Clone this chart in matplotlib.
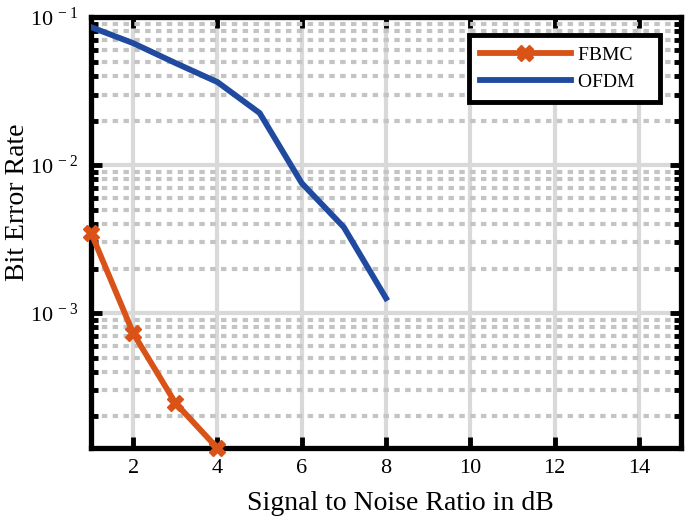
import matplotlib
matplotlib.use("Agg")
import matplotlib.pyplot as plt
from matplotlib.ticker import LogLocator, NullFormatter, FixedLocator, FixedFormatter

snr_fbmc = [1, 2, 3, 4]
ber_fbmc = [3.48e-3, 7.3e-4, 2.47e-4, 1.22e-4]
snr_ofdm = [1, 2, 3, 4, 5, 6, 7, 8]
ber_ofdm = [0.0856, 0.0667, 0.049, 0.0364, 0.0225, 0.00755, 0.0038, 0.00126]
xticks = [2, 4, 6, 8, 10, 12, 14]
yticks = [1e-3, 1e-2, 1e-1]
ytick_labels = [r'$\mathregular{10^{\,-3}}$', r'$\mathregular{10^{\,-2}}$', r'$\mathregular{10^{\,-1}}$']

plt.rcParams['font.family'] = ['Liberation Serif', 'DejaVu Serif']
plt.rcParams['mathtext.fontset'] = 'custom'
plt.rcParams['mathtext.rm'] = 'Liberation Serif'

fig = plt.figure(figsize=(6.85, 5.2), dpi=100)
ax = fig.add_axes([0.133, 0.138, 0.861, 0.829])

ax.plot(snr_fbmc, ber_fbmc, color='#D95319', lw=4.2, marker='X', ms=12,
        label='FBMC', zorder=5, clip_on=False)
ax.plot(snr_ofdm, ber_ofdm, color='#1F4AA0', lw=4.2, label='OFDM', zorder=5)

ax.set_yscale('log')
ax.set_xlim(1, 15)
ax.set_ylim(ber_fbmc[-1], 0.1)
ax.xaxis.set_major_locator(FixedLocator(xticks))
ax.yaxis.set_major_locator(FixedLocator(yticks))
ax.yaxis.set_major_formatter(FixedFormatter(ytick_labels))
ax.yaxis.set_minor_locator(LogLocator(base=10, subs=range(2, 10), numticks=20))
ax.yaxis.set_minor_formatter(NullFormatter())

ax.grid(True, which='major', color='#d9d9d9', lw=3, ls='-')
ax.grid(True, which='minor', axis='y', color='#c4c4c4', lw=3, ls=(0, (1.3, 1.3)))
ax.set_axisbelow(True)

for s in ax.spines.values():
    s.set_linewidth(3.8)
ax.tick_params(which='both', direction='in', top=True, right=True, width=3.5)
ax.tick_params(axis='x', labelsize=16, pad=8)
ax.tick_params(axis='y', labelsize=16, pad=9)
ax.tick_params(which='major', length=8)
ax.tick_params(which='minor', length=5)

fig.text(400 / 685, 1 - 503 / 520, 'Signal to Noise Ratio in dB', fontsize=20,
         ha='center', va='center')
fig.text(18 / 685, 1 - 202 / 520, 'Bit Error Rate', fontsize=20, rotation=90,
         ha='center', va='center')

leg = ax.legend(loc='upper right', bbox_to_anchor=(0.964, 0.958), fontsize=14,
                fancybox=False, framealpha=1, edgecolor='black',
                handlelength=4.7, handletextpad=0.35, borderpad=0.55,
                labelspacing=0.5, borderaxespad=0)
for t in leg.get_texts():
    t.set_text(t.get_text() + '   ')
leg.get_frame().set_linewidth(3.5)

fig.savefig('out.png', dpi=100)
